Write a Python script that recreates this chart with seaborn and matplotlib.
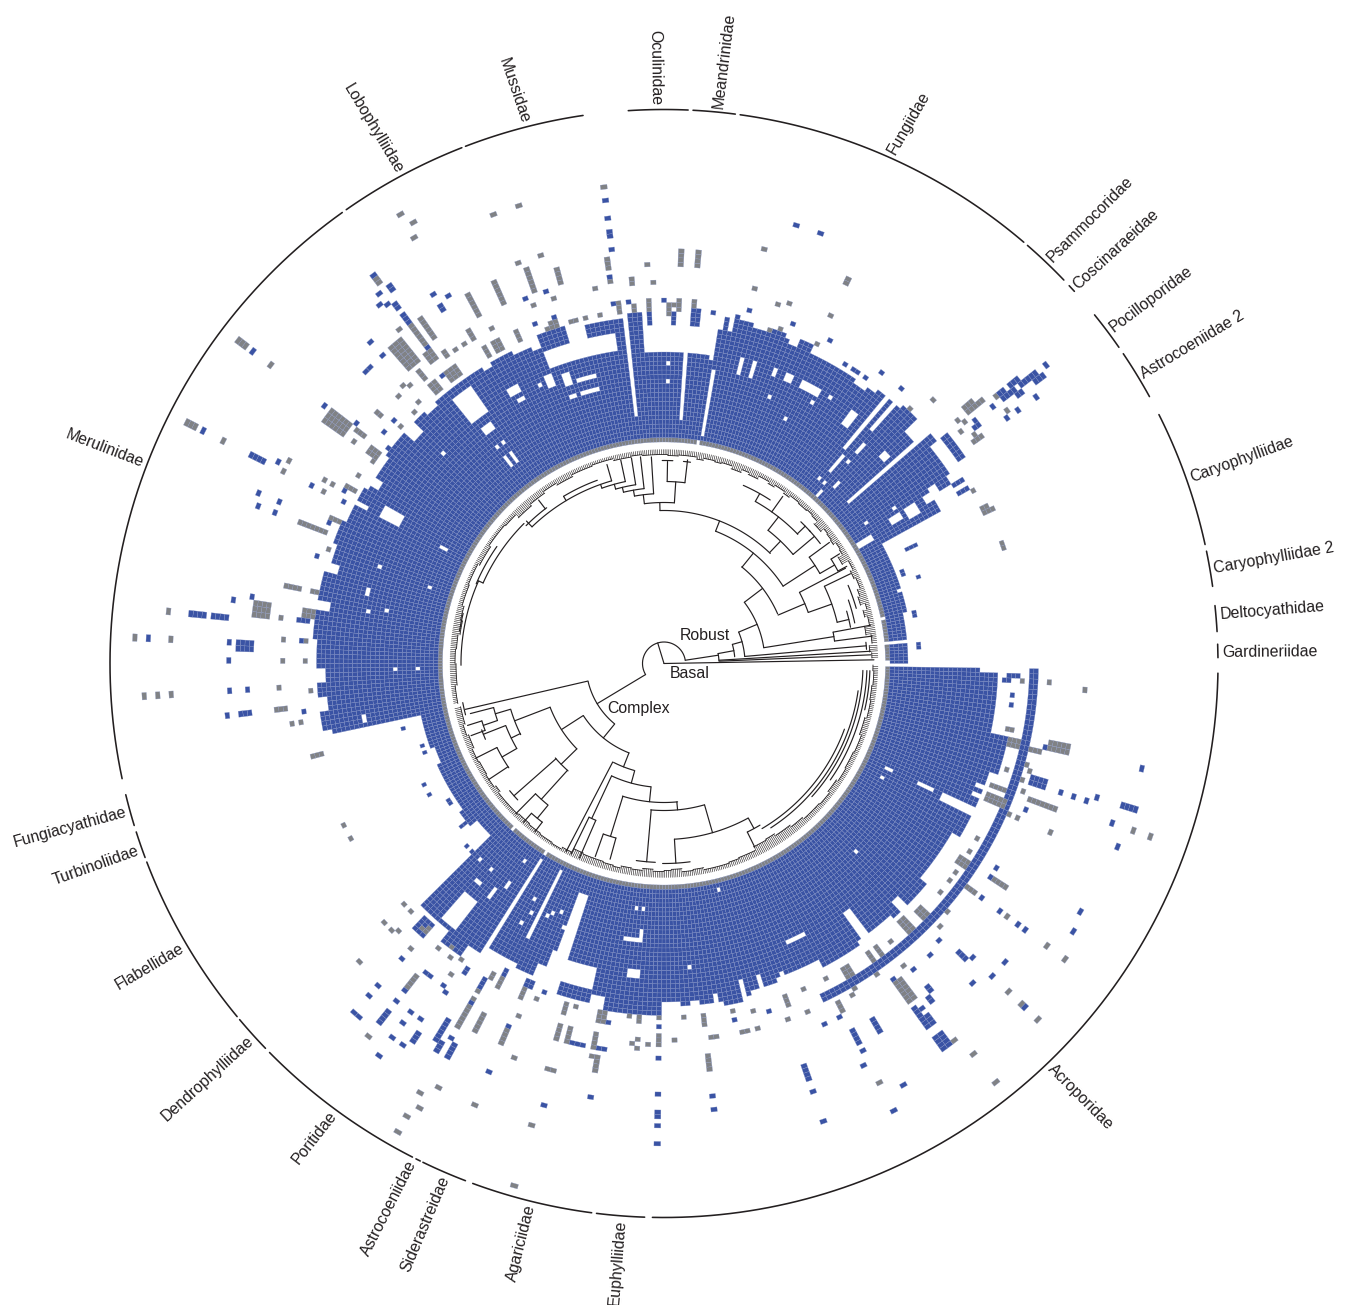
"""Circular coral phylogeny with a trait-presence ring."""

import numpy as np
import pandas as pd
import matplotlib
matplotlib.use("Agg")
import matplotlib.pyplot as plt
from matplotlib.colors import ListedColormap
import seaborn as sns

# family arcs on the outer circle (degrees, counter-clockwise from east)
family_names = ["Gardineriidae", "Deltocyathidae", "Caryophylliidae 2", "Caryophylliidae",
                "Astrocoeniidae 2", "Pocilloporidae", "Coscinaraeidae", "Psammocoridae",
                "Fungiidae", "Meandrinidae", "Oculinidae", "Mussidae", "Lobophylliidae",
                "Merulinidae", "Fungiacyathidae", "Turbinoliidae", "Flabellidae",
                "Dendrophylliidae", "Poritidae", "Astrocoeniidae", "Siderastreidae",
                "Agariciidae", "Euphylliidae", "Acroporidae"]
family_start = [0.6, 3.3, 8.0, 12.4, 28.8, 34.8, 42.2, 43.8, 49.5, 82.6, 87.5, 98.4, 111.4,
                125.5, 193.7, 197.7, 201.0, 220.0, 224.6, 243.4, 244.2, 249.8, 263.0, 268.8]
family_end = [2.0, 6.0, 11.7, 26.7, 34.0, 39.0, 43.0, 49.0, 82.1, 87.0, 93.7, 111.0, 125.0,
              192.0, 197.0, 200.5, 219.6, 224.0, 243.0, 243.9, 249.0, 262.5, 268.0, 359.0]
label_deg = [1.1, 5.0, 9.8, 19.4, 31.1, 36.8, 42.5, 46.3, 66.0, 84.4, 90.8, 104.4, 118.3,
             159.0, 195.4, 199.6, 210.5, 222.3, 233.7, 243.2, 246.9, 256.2, 265.6, 313.8]
label_rot = [0.5, 4.5, 10, 20, 31, 37, 42.5, 45, 60, 83, -89.2, -71, -59,
             -21, 15.4, 19.6, 30.5, 42.3, 52, 63, 67, 76, 85.6, -45]

# outer edge of the filled block: from env_deg[i] to env_deg[i + 1], up to env_r[i]
env_deg = [0.4, 5.2, 6.0, 11.8, 12.4, 17, 18, 22, 25, 29, 31.2, 33, 34, 39, 40.5, 41.5, 44,
           47.5, 52, 54, 56, 60, 63, 65, 67, 69, 70, 73, 75, 78, 81, 82, 88, 93.8, 96.5, 103,
           106.5, 111, 113, 116, 120, 122, 131, 134, 143, 150, 156, 160, 165, 170, 176, 186,
           190, 191.5, 192.3, 200, 204, 216, 220, 224.5, 232, 233, 238.4, 244, 247, 249, 250,
           252, 258, 260, 270, 273, 277, 280, 283, 285, 290, 292, 298, 305, 312, 320, 330,
           335, 342, 348, 352, 358.5, 359.6]
env_r = [247, 0, 247, 0, 249, 245, 249, 251, 249, 316, 310, 340, 345, 355, 336, 336, 353,
         349, 346, 342, 344, 346, 344, 352, 346, 350, 354, 351, 353, 340, 335, 315, 315, 353,
         349, 338, 352, 340, 344, 350, 346, 350, 346, 350, 347, 349, 353, 350, 353, 354, 351,
         349, 351, 340, 250, 245, 250, 253, 247, 345, 340, 347, 336, 340, 325, 310, 247, 315,
         342, 352, 340, 347, 343, 349, 347, 342, 336, 337, 343, 341, 345, 336, 343, 347, 352,
         338, 334, 320]

# white cut-outs in the block: (deg from, deg to, r from, r to)
holes_q1 = [(40.6, 41.5, 247, 400), (49.6, 50.2, 284, 400), (48.2, 48.8, 312, 400),
            (49.4, 50, 255, 272), (47.7, 48.3, 285, 300), (52, 54, 300, 320),
            (42.6, 44, 302, 310), (47.6, 48.2, 272, 277), (49.8, 50.4, 242, 247),
            (48, 48.6, 243, 248), (46.2, 46.8, 248, 253), (47.8, 48.4, 230, 235),
            (49.4, 50, 273, 278), (30.7, 31.7, 230, 248), (30.5, 32.5, 288, 300),
            (31, 33, 268, 280), (35, 35.6, 246, 251), (33.6, 34.2, 277, 282),
            (31.3, 34, 319, 327), (60, 64, 310, 316), (57.3, 58.3, 313, 318),
            (66, 67.4, 311, 316), (68.5, 69.5, 311, 316), (72.5, 73.5, 300, 316),
            (75, 76, 300, 316), (68.3, 69.1, 285, 292), (60, 60.8, 298, 303),
            (63.3, 64.1, 273, 278), (80.6, 81.2, 231, 300), (81, 81.8, 308, 335),
            (85.7, 86.5, 248, 330), (89, 89.8, 298, 303), (89, 89.8, 281, 286)]
holes_q2 = [(95.7, 96.5, 250, 360), (98.5, 111, 318, 338), (103, 107, 296, 302),
            (103, 107, 281, 287), (108, 110, 281, 286), (108, 110, 296, 310),
            (111.5, 112.5, 300, 312), (113.6, 114.4, 303, 308), (118, 120, 310, 316),
            (118, 119, 298, 303), (125, 129, 310, 340), (126, 128, 290, 300),
            (127, 127.8, 273, 278), (125.4, 126.2, 273, 278), (127.2, 127.9, 250, 262),
            (125.6, 126.3, 250, 262), (136.1, 136.9, 303, 308), (136, 138.5, 335, 350),
            (132, 134, 345, 355), (150.5, 153, 300, 322), (152, 152.8, 248, 253),
            (161, 161.8, 299, 304), (161.6, 162.4, 247, 252), (165.5, 167, 305, 310),
            (169.3, 170.1, 299, 304), (169.2, 170, 282, 287), (147, 149, 338, 350),
            (152, 153, 335, 350), (163, 165, 342, 352), (170, 171.5, 340, 356),
            (180.9, 181.7, 269, 274), (180.9, 181.7, 247, 252), (189.5, 191, 304, 310),
            (180.5, 183, 342, 360), (186, 188, 340, 356)]
holes_q3 = [(229, 232, 305, 340), (233.2, 234, 280, 295), (234.6, 235.4, 268, 278),
            (229.2, 230.2, 285, 293), (234.7, 235.3, 241, 246), (226.2, 227, 269, 274),
            (229.6, 230.4, 268, 273), (237.6, 238.4, 233, 345), (243.3, 244, 231, 310),
            (241.1, 241.9, 269, 274), (241.3, 242.1, 281, 286), (241.2, 242, 297, 302),
            (245.6, 246.4, 271, 276), (247.6, 248.4, 268, 273), (245.1, 245.9, 278, 283),
            (248.6, 249.4, 280, 285), (262, 265, 278, 283), (264.5, 265.3, 268, 283),
            (263, 265.3, 311, 316), (263.6, 264.4, 247, 252), (265.2, 266, 247, 252)]
holes_q4 = [(283.6, 284.4, 234, 239), (274.4, 275.2, 306, 311), (315.2, 316, 268, 273),
            (334.8, 335.6, 248, 253), (332.4, 333.2, 247, 252), (334.5, 335.5, 282, 300),
            (334, 335, 308, 345), (338.5, 339.5, 335, 352), (336.5, 337.3, 338, 352),
            (294, 298, 303, 310), (305.3, 307, 310, 340), (314, 315, 333, 348),
            (327.5, 328.5, 335, 345), (278.2, 279, 335, 350), (283.3, 284, 328, 350),
            (286.2, 287, 328, 350), (290.2, 291, 332, 346), (274.5, 276, 340, 350)]

# extra blue bands beyond the block: (deg from, deg to, r from, r to)
blue_bands = [(295.5, 359.6, 366, 374), (34.4, 39, 357, 364), (32, 33.5, 328, 335),
              (226.5, 228.5, 348, 362), (231, 235, 340, 356), (252, 258, 335, 347),
              (84, 85.6, 341, 355), (79.5, 80.3, 340, 350), (77.5, 78.3, 342, 352)]

# isolated cells: (deg, r from, r to)
blue_q1 = [(38.1, 483, 483), (38.9, 428, 436), (38.1, 436, 446), (38.9, 446, 452), (38, 452, 470), (37.2, 466, 474),
           (37.2, 444, 448), (38.1, 430, 434), (38, 417, 417), (35.7, 458, 458),
           (38.3, 393, 393), (37.5, 390, 396), (35.8, 422, 422), (35.6, 437, 437), (35.6, 390, 390),
           (48.9, 364, 364), (53, 364, 364), (54.7, 351, 351), (56.7, 351, 351), (57.5, 351, 351),
           (58.7, 351, 351), (63, 364, 364), (69.6, 364, 364), (76.2, 365, 365), (30.3, 340, 350),
           (31.2, 340, 350), (25.3, 268, 276), (19, 270, 270), (20, 255, 255), (20.8, 255, 255),
           (11.7, 255, 255), (11, 255, 255), (4, 255, 255), (3.2, 255, 255), (73, 457, 457),
           (69.7, 458, 458), (97.5, 466, 466), (97.5, 449, 449), (97.3, 432, 436), (97, 418, 418),
           (82, 352, 352), (85, 358, 358), (84.6, 342, 355), (88.7, 345, 350)]
blue_q2 = [(126.6, 484, 484), (127.4, 468, 468), (126.2, 460, 468), (128.3, 458, 458),
           (127.4, 454, 454), (126.6, 442, 450), (126.5, 428, 436), (132.4, 437, 437),
           (132.4, 418, 418), (134.6, 417, 417), (135.4, 417, 417), (126.8, 390, 398),
           (121.7, 437, 437), (120, 428, 428), (121.7, 416, 420), (110.9, 390, 390),
           (107.6, 390, 390), (110.9, 365, 365), (107.6, 364, 364), (97.7, 390, 390),
           (90.2, 364, 364), (95.2, 364, 364), (97.2, 365, 365), (98, 365, 365), (92, 346, 350),
           (92.7, 340, 348), (88.7, 340, 348), (143.2, 427, 427), (142.3, 390, 390),
           (138.2, 365, 365), (140.7, 364, 364), (142, 351, 351), (153.1, 395, 395),
           (151.4, 364, 364), (153.1, 360, 360), (157.2, 364, 364), (162.9, 364, 364),
           (172.9, 360, 368), (176.5, 365, 365), (173.8, 462, 476), (174, 440, 452),
           (171.3, 437, 437), (170.9, 419, 419), (177, 515, 515), (177, 437, 437), (177.1, 412, 424),
           (178, 412, 424), (179.5, 433, 433), (183.6, 437, 437), (183.8, 417, 417),
           (186.9, 438, 438), (186.8, 416, 426), (187.7, 364, 364), (153, 516, 516),
           (153.1, 448, 460), (152.7, 437, 437), (157, 440, 440), (158.7, 435, 435),
           (157, 419, 419), (158.6, 418, 418), (153.2, 395, 395), (143.1, 514, 514),
           (127.3, 361, 361), (194.3, 270, 270), (198.4, 254, 254), (199.2, 254, 254),
           (200, 255, 255), (206.8, 270, 270), (209, 270, 270), (212.6, 256, 256),
           (213.4, 256, 256), (218.5, 255, 260), (222.6, 270, 270), (224.4, 270, 270)]
blue_q3 = [(228.3, 364, 364), (228.4, 394, 394), (234.3, 364, 364), (236.9, 362, 368),
           (240, 362, 372), (242.5, 345, 355), (232.2, 390, 390), (233, 390, 390), (231.8, 417, 417),
           (228.3, 430, 430), (228.3, 444, 444), (231.7, 431, 431), (231.7, 442, 452),
           (228.3, 466, 466), (229.1, 466, 466), (231.7, 458, 458), (234.2, 430, 430),
           (234.2, 442, 442), (235.9, 430, 430), (236.1, 442, 450), (234.2, 460, 460),
           (236.5, 451, 451), (235.9, 461, 461), (234.3, 483, 483), (239.1, 415, 420),
           (235.8, 390, 390), (236.6, 394, 394), (240.3, 388, 398), (246.5, 395, 395),
           (239.2, 428, 440), (240.7, 431, 431), (239.3, 440, 450), (240.9, 446, 446),
           (241, 434, 448), (246.8, 343, 350), (247.6, 343, 350), (247, 364, 364), (249.9, 351, 351),
           (253.9, 364, 364), (254, 390, 390), (256.2, 390, 390), (257, 390, 390), (258, 390, 390),
           (259.5, 390, 390), (260.3, 390, 390), (261.1, 390, 390), (260.2, 365, 365),
           (261, 365, 365), (259.4, 365, 365), (268.9, 364, 364), (269, 393, 393),
           (260.3, 440, 440), (255, 457, 457), (246.5, 445, 445), (269, 431, 431), (269, 448, 452),
           (269, 461, 461), (269, 482, 482)]
blue_q4 = [(342.2, 384, 400), (343.2, 384, 400), (341.9, 418, 418), (339.3, 417, 417), (337.6, 389, 389),
           (347.5, 389, 389), (327, 391, 391), (328.6, 389, 389), (323.7, 393, 393), (323.9, 417, 417),
           (323.6, 439, 439), (323.6, 428, 428), (323.6, 449, 449), (315, 392, 392), (315.4, 414, 420),
           (316, 427, 427), (318.6, 453, 453), (316.2, 453, 453), (313.7, 444, 444), (312, 393, 393),
           (309.4, 393, 393), (296.7, 393, 393), (293.8, 393, 393), (305.6, 388, 393), (306.4, 388, 393),
           (309.5, 415, 420), (308, 425, 430), (305.7, 428, 434), (306.5, 431, 431), (305.7, 440, 450),
           (306.5, 440, 450), (305.9, 462, 476), (306.7, 462, 476), (300.5, 412, 424), (297, 412, 424),
           (297.2, 436, 436), (281.4, 364, 364), (287.1, 363, 363), (276.2, 434, 434), (276.2, 449, 449),
           (289.4, 428, 438), (289.1, 455, 455), (289.2, 483, 483), (297.3, 504, 504), (299.6, 483, 483),
           (296.2, 449, 449), (316, 500, 500), (355, 351, 351), (353.5, 351, 351), (358, 345, 352),
           (356.8, 340, 346), (347.6, 487, 487), (342.8, 478, 494), (340.3, 474, 474), (337.7, 487, 487),
           (342.6, 452, 452), (342, 443, 443), (342, 430, 430), (328.8, 486, 486), (326.8, 487, 487)]
grey_q1 = [(39.7, 396, 412), (40.5, 396, 405), (39, 424, 424), (38.5, 386, 386), (39.7, 381, 381), (38, 377, 377),
           (36.3, 426, 426), (35.8, 380, 388), (36.6, 385, 385), (35.5, 379, 379), (44.7, 377, 377),
           (46.4, 356, 356), (64.5, 386, 386), (64.6, 424, 424), (64.6, 355, 355), (70.4, 381, 381),
           (72, 377, 377), (76, 385, 385), (29, 356, 356), (25.4, 354, 362), (26.2, 354, 358),
           (19, 358, 358), (19.8, 358, 358), (97.5, 480, 480), (97.7, 398, 410), (98, 386, 386),
           (76, 424, 424), (64.6, 423, 423), (87.7, 399, 411), (85.5, 399, 411), (92, 398, 398),
           (94.5, 385, 385), (76.4, 386, 386), (85, 360, 365), (87.7, 353, 362), (88.7, 358, 358),
           (72.8, 348, 348), (71, 354, 354)]
grey_q2 = [(126.6, 474, 480), (128.3, 425, 425), (126.6, 398, 420), (125, 398, 420), (129.5, 392, 418),
           (130.3, 392, 418), (131.2, 392, 418), (127.9, 380, 390), (126.5, 381, 388), (124.9, 375, 382),
           (118.3, 395, 415), (114.2, 395, 415), (109.2, 395, 415), (110, 381, 381), (106.8, 381, 381),
           (105, 395, 408), (100, 382, 382), (97.7, 385, 385), (94.4, 381, 381), (91.8, 381, 381),
           (97.4, 354, 362), (94.7, 352, 358), (92, 354, 364), (89.4, 350, 358), (87.7, 354, 364),
           (100, 355, 355), (103, 355, 355), (104.2, 355, 355), (105.2, 355, 355), (108, 354, 360),
           (107.2, 354, 360), (109, 356, 356), (114.2, 354, 363), (120, 376, 384), (117.5, 377, 377),
           (121.7, 377, 377), (123.3, 377, 377), (119.7, 353, 362), (118.2, 353, 362), (117.4, 353, 362),
           (126.3, 353, 363), (125.5, 353, 363), (127.1, 353, 363), (130.2, 353, 364), (129.4, 353, 364),
           (130, 372, 382), (132.5, 377, 377), (133.1, 381, 381), (135, 378, 378), (133.3, 359, 359),
           (135, 356, 356), (138.6, 375, 380), (143, 395, 415), (143.8, 395, 415), (144.6, 395, 415),
           (138.1, 356, 356), (142.9, 376, 386), (144, 380, 380), (143.3, 353, 364), (144.1, 353, 364),
           (145.6, 356, 356), (151.4, 424, 424), (151.4, 386, 386), (151.5, 378, 378), (153.1, 382, 382),
           (148.2, 360, 360), (150.6, 352, 362), (156.5, 352, 362), (158.7, 368, 388), (161.3, 356, 356),
           (168, 372, 386), (168.3, 352, 358), (171.4, 352, 364), (172.2, 352, 364), (176, 359, 359),
           (179.4, 359, 359), (173.7, 499, 499), (171.6, 398, 412), (172.4, 398, 412), (173, 398, 412),
           (177, 529, 529), (177, 493, 493), (173.6, 384, 384), (176.5, 381, 381), (179.5, 381, 381),
           (183.7, 522, 522), (183.7, 508, 508), (183.6, 493, 493), (186.9, 380, 392), (183.5, 384, 384),
           (184.2, 355, 355), (189, 369, 369), (189.5, 375, 375), (194.4, 356, 362), (206.8, 357, 357),
           (209.3, 358, 358), (153, 523, 535), (153.1, 492, 492), (152.9, 428, 428), (159, 362, 376),
           (151.5, 376, 376), (143.1, 523, 535), (143.2, 492, 492), (120, 522, 522),
           (119.7, 508, 508), (120, 492, 492), (110.8, 481, 481), (107.6, 480, 480), (110, 424, 424),
           (107, 425, 425)]
grey_q3 = [(222.6, 356, 356), (224.2, 356, 356), (222.5, 381, 381), (224.3, 381, 381), (225, 376, 376),
           (227.4, 360, 360), (228.1, 354, 360), (228.4, 381, 381), (224.2, 424, 424), (231.6, 361, 361),
           (233, 356, 356), (234, 361, 361), (235.9, 358, 358), (235.8, 377, 377), (240.8, 352, 360),
           (242.5, 353, 363), (231.8, 398, 414), (231.6, 477, 477), (240.7, 386, 386), (240.4, 377, 377),
           (240.6, 395, 415), (242.4, 395, 413), (246.5, 400, 414), (247.5, 381, 381), (246.9, 353, 364),
           (249.1, 360, 360), (253.6, 354, 362), (255.8, 356, 356), (259.4, 353, 364), (260.2, 353, 364),
           (253.8, 376, 390), (255.6, 376, 390), (259.9, 375, 388), (259.8, 399, 399), (264, 355, 355),
           (266.1, 354, 360), (268.9, 356, 356), (269, 374, 382), (266.3, 377, 377), (265.3, 381, 381),
           (267.4, 381, 381), (266.4, 386, 386), (260, 400, 414), (253.8, 478, 478), (254, 542, 542),
           (246.7, 478, 478), (240.7, 492, 492), (240.7, 539, 539), (240.6, 521, 521), (240.9, 506, 506),
           (242.2, 480, 480), (248.9, 422, 422), (253.7, 423, 423), (254.5, 423, 423)]
grey_q4 = [(347, 352, 365), (347.8, 352, 365), (349, 350, 354), (356.8, 358, 358), (342, 378, 378), (343.5, 381, 381),
           (344.3, 377, 377), (347, 376, 386), (347.4, 395, 412), (348.2, 395, 412), (339.5, 392, 415),
           (336, 423, 423), (336.1, 385, 385), (336, 376, 376), (356.8, 386, 386), (340, 383, 383),
           (336.8, 348, 366), (337.6, 348, 366), (339.5, 350, 364), (343, 358, 358), (331, 358, 358),
           (328.5, 358, 358), (326.4, 352, 364), (327.2, 352, 364), (324.3, 357, 357), (323, 357, 357),
           (320.3, 357, 357), (315.8, 354, 362), (316.6, 354, 362), (312.7, 350, 364), (313.5, 350, 364),
           (309.3, 358, 358), (307, 354, 364), (305, 352, 362), (300.6, 354, 362), (301.4, 354, 362),
           (297.3, 356, 356), (293.5, 355, 355), (290.2, 354, 362), (327, 396, 410), (323.7, 376, 386),
           (323.7, 424, 424), (323.6, 475, 475), (323.5, 496, 496), (318.6, 377, 377), (316, 379, 379),
           (316, 474, 474), (316, 494, 494), (316.2, 517, 517), (308, 385, 385), (304.3, 376, 376),
           (300.3, 376, 376), (299.6, 381, 381), (297.5, 381, 388), (306, 396, 416), (306.8, 396, 416),
           (307.9, 475, 475), (308, 498, 498), (308, 534, 534), (276.4, 353, 362), (273, 356, 356), (281.4, 355, 355),
           (284.7, 359, 359), (288.9, 377, 377), (292.1, 377, 377), (284.7, 377, 377), (281.8, 376, 376),
           (282.6, 376, 376), (276.9, 377, 377), (277.7, 377, 377), (271.4, 377, 377), (276.2, 397, 397),
           (276.3, 396, 410), (297.2, 473, 473), (340, 498, 498), (340, 517, 517), (356.7, 420, 420)]

# white breaks in the grey inner ring (deg from, deg to)
ring_breaks = [(359.6, 360), (0, 0.4), (5.2, 6.0), (11.8, 12.4), (81.0, 81.6), (227.4, 228), (238, 238.6)]

# tree: arcs (radius, deg from, deg to) and radial stems (deg, r from, r to)
tree_arcs = [(21.5, 9, 211), (55, 3.4, 10.4), (71, 5.5, 15.6), (81, 5, 22.8), (101, 9, 37.3), (124, 23.6, 51.2),
             (142, 33, 68.7), (153, 46, 91.5), (169, 40.2, 52), (153, 19.6, 27.7), (178, 13.4, 25.7), (190, 11, 16),
             (195, 12, 19), (200, 16, 23), (172, 7.5, 10.5), (203, 4, 6), (180, 30, 36.2), (197, 28, 32),
             (186, 44, 60.6), (195, 57, 66), (197, 42, 46), (197, 37.5, 42.5), (161, 86.3, 97), (182, 83.4, 89),
             (203, 87.5, 90.5), (203, 82.5, 84.5), (170, 93.5, 100), (176, 96.5, 103.3), (181, 99, 105.5),
             (186, 102, 109.5), (190, 106, 134), (195, 110, 121), (195, 127, 135), (198, 135, 156), (204, 145, 157),
             (203, 156, 180.5), (207, 166, 171),
             (78, 193.3, 230.5), (205, 191, 194.5), (96, 213, 248.6), (122, 201, 224.4), (160, 196.8, 206.4),
             (176, 194.5, 198.9), (191, 197.5, 200.5), (170, 201.6, 210), (194, 200, 203), (187, 206.7, 213.9),
             (144, 221, 228.2), (200, 219.5, 223), (183, 225.4, 230.5), (200, 228.5, 232.5), (111, 243, 254.4),
             (124, 245, 263.9), (171, 244, 246.5), (139, 252.6, 275.6), (181, 250.4, 254.6), (147, 264.8, 285.9),
             (199, 262, 267.5), (176, 273.4, 298.5), (200, 269.6, 277.5), (188, 296.3, 300.7), (192, 300.7, 340),
             (196, 303, 352), (199, 318, 358), (203, 325, 358), (206, 347, 358)]
tree_stems = [(107, 0, 21.5), (1, 0, 210), (8.7, 21.5, 55), (3.4, 55, 207), (2.4, 55, 207), (10.4, 55, 71), (15.6, 71, 81),
              (22.8, 81, 101), (37.3, 101, 124), (51, 124, 142), (68.7, 142, 153), (46.4, 153, 169), (23, 124, 153),
              (27.7, 153, 205), (19.5, 153, 178), (25.7, 178, 207), (13.4, 178, 190), (9, 101, 172), (10.5, 172, 210),
              (7.5, 172, 210), (5, 81, 203), (33, 142, 180), (36.2, 180, 205), (30, 180, 197), (28, 197, 207),
              (32, 197, 207), (52, 169, 186), (60.6, 186, 195), (44.2, 186, 197), (54.6, 186, 205), (40.2, 169, 197),
              (91.5, 153, 161), (86.3, 161, 182), (89, 182, 202), (83.4, 182, 205), (97, 161, 170), (93.5, 170, 207),
              (100, 170, 176), (96.5, 176, 208), (103.3, 176, 181), (99, 181, 208), (105.5, 181, 186), (102, 186, 208),
              (109.5, 186, 190), (106, 190, 207), (121, 190, 195), (134, 190, 198), (127.5, 195, 206), (156, 198, 203),
              (211, 21.5, 78), (193, 78, 204), (230.8, 78, 96), (212.8, 96, 122), (201, 122, 160), (196.6, 160, 176),
              (194.5, 176, 200), (198.9, 176, 191), (197.5, 191, 206), (200.5, 191, 206), (206, 160, 170), (201.4, 170, 194),
              (210, 170, 187), (206.7, 187, 211), (213.5, 187, 210), (224.4, 122, 144), (221.4, 144, 200), (227.9, 144, 183),
              (225.4, 183, 211), (230.7, 183, 200), (228.5, 200, 212), (232.5, 200, 212), (248.6, 96, 111), (242.5, 111, 212),
              (254.7, 111, 124), (245, 124, 171), (244, 171, 212), (246.5, 171, 212), (264, 124, 139), (252.8, 139, 181),
              (250.4, 181, 205), (254.6, 181, 203), (275.3, 139, 147), (265, 147, 199), (286, 147, 176), (273.4, 176, 200),
              (298.6, 176, 188), (296.3, 188, 205)]

# short tip combs next to the ring: (deg from, deg to, r where the comb starts)
combs_q1 = [(1.5, 3, 208), (3.2, 5, 206), (5.5, 8, 209), (8, 10.5, 204), (10.5, 13, 209), (13, 15, 206), (15, 16.5, 210),
            (16.5, 19, 205), (19, 21, 207), (21, 24, 210), (24, 26.5, 208), (26.5, 29, 211), (29, 31.5, 204), (31.5, 33, 209),
            (33, 35, 210), (35, 36.5, 207), (36.5, 38.5, 208), (38.5, 40, 209), (40, 43, 205), (43, 45, 209), (45, 47, 210),
            (47, 50, 209), (50, 53, 210), (53, 55, 208), (55, 58, 210), (58, 60, 208), (60, 63, 210), (63, 66, 207), (66, 68, 209),
            (68, 71, 206), (71, 74, 209), (74, 76, 208), (76, 79, 209), (79, 81, 207), (81, 86, 209), (86, 89, 208), (89, 92, 209)]
combs_q2 = [(92, 96, 209), (96, 99, 210), (99, 104, 209), (104, 110, 211), (110, 116, 210), (116, 121, 208), (121, 125, 210),
            (125, 130, 208), (130, 135, 206), (135, 139, 210), (139, 146, 211), (146, 152, 209), (152, 158, 211), (158, 164, 210),
            (164, 168, 208), (168, 172, 206), (172, 176, 208), (176, 180, 209), (180, 186, 208), (186, 191, 210)]
combs_q3 = [(192, 197, 208), (197, 200, 210), (200, 204, 208), (204, 208, 210), (208, 212, 209), (212, 216, 210), (216, 218, 208),
            (218, 222, 210), (222, 226, 210), (226, 230, 209), (230, 234, 210), (234, 238, 211), (238, 241, 212), (241, 244, 210),
            (244, 247, 206), (247, 250, 207), (250, 253, 207), (253, 256, 208), (256, 258, 209), (258, 261, 207), (261, 264, 208),
            (264, 267, 206), (267, 270, 208)]
combs_q4 = [(270, 272, 207), (272, 275, 206), (275, 278, 209), (278, 281, 208), (281, 284, 210), (284, 288, 210), (288, 291, 209),
            (291, 294, 208), (294, 296, 208), (296, 300, 204), (300, 303, 203), (303, 308, 205), (308, 312, 207), (312, 318, 209),
            (318, 322, 210), (322, 326, 208), (326, 330, 210), (330, 335, 209), (335, 340, 210), (340, 345, 208), (345, 350, 210),
            (350, 354, 209), (354, 358, 210), (358, 359.6, 209)]

clade_labels = ["Robust", "Basal", "Complex"]
clade_xy = [(705, 636), (690, 674), (639, 708)]

BLUE = "#3a53a4"
GREY = "#808285"
INK = "#231f20"
CELL_DEG = 0.8
TIP_STEP = 0.5
RING_R = 221.5
CELL_R = 4.5
TIP_R = 214
W, H, CX, CY, R_MAX = 1352, 1305, 664, 663.5, 650


def col_range(a, b):
    centers = (np.arange(int(360 / CELL_DEG)) + 0.5) * CELL_DEG
    idx = np.where((centers >= a) & (centers < b))[0]
    return idx if len(idx) else np.array([int(a / CELL_DEG) % len(centers)])


def row_of(r):
    return int((r - RING_R) / CELL_R)


def build_grid():
    grid = np.zeros((75, int(360 / CELL_DEG)), dtype=int)
    grid[0, :] = 2
    for a, b in ring_breaks:
        grid[0, col_range(a, b)] = 0
    for a, b, r in zip(env_deg[:-1], env_deg[1:], env_r):
        if r:
            grid[1:row_of(r), col_range(a, b)] = 1
    for a, b, r0, r1 in holes_q1 + holes_q2 + holes_q3 + holes_q4:
        grid[max(row_of(r0), 1):max(row_of(r1), row_of(r0) + 1), col_range(a, b)] = 0
    for a, b, r0, r1 in blue_bands:
        grid[row_of(r0):row_of(r1) + 1, col_range(a, b)] = 1
    for value, cells in ((1, blue_q1 + blue_q2 + blue_q3 + blue_q4), (2, grey_q1 + grey_q2 + grey_q3 + grey_q4)):
        for deg, r0, r1 in cells:
            grid[row_of(r0):row_of(r1) + 1, int(deg / CELL_DEG) % grid.shape[1]] = value
    return grid


def arc_frame(arcs):
    rows = []
    for uid, (r, a, b) in enumerate(arcs):
        for t in np.radians(np.linspace(a, b, max(int(abs(b - a) * 2), 2))):
            rows.append((uid, t, r))
    return pd.DataFrame(rows, columns=["unit", "theta", "r"])


def stem_frame(stems):
    rows = []
    for uid, (deg, r0, r1) in enumerate(stems):
        rows += [(uid, np.radians(deg), r0), (uid, np.radians(deg), r1)]
    return pd.DataFrame(rows, columns=["unit", "theta", "r"])


def draw_lines(ax, df, lw):
    sns.lineplot(data=df, x="theta", y="r", units="unit", estimator=None, sort=False,
                 color=INK, linewidth=lw, legend=False, ax=ax)


sns.set_theme(style="white")
plt.rcParams["font.family"] = ["Liberation Sans", "DejaVu Sans"]

fig = plt.figure(figsize=(W / 100, H / 100), dpi=100)
ax = fig.add_axes([(CX - R_MAX) / W, (H - CY - R_MAX) / H, 2 * R_MAX / W, 2 * R_MAX / H], projection="polar")

grid = build_grid()
theta_edges = np.radians(np.arange(grid.shape[1] + 1) * CELL_DEG)
r_edges = RING_R + np.arange(grid.shape[0] + 1) * CELL_R
cmap = ListedColormap(sns.color_palette([BLUE, GREY]))
ax.pcolor(theta_edges, r_edges, np.ma.masked_equal(grid, 0), cmap=cmap, vmin=1, vmax=2,
          edgecolors="#8796c8", linewidth=0.2)

# tree
draw_lines(ax, arc_frame(tree_arcs), 0.85)
draw_lines(ax, stem_frame(tree_stems), 0.85)
combs = combs_q1 + combs_q2 + combs_q3 + combs_q4
draw_lines(ax, arc_frame([(r, a, b) for a, b, r in combs]), 0.6)
tips = [(deg, r, TIP_R) for a, b, r in combs for deg in np.arange(a + 0.2, b, TIP_STEP)]
draw_lines(ax, stem_frame(tips), 0.42)

# family arcs and labels
draw_lines(ax, arc_frame([(554, a, b) for a, b in zip(family_start, family_end)]), 1.15)
for name, deg, rot in zip(family_names, label_deg, label_rot):
    right_side = deg < 90 or deg > 270
    ax.text(np.radians(deg), 558, name, fontsize=11.4, color=INK, va="center",
            ha="left" if right_side else "right", rotation=rot,
            rotation_mode="anchor", clip_on=False)

for name, (x, y) in zip(clade_labels, clade_xy):
    fig.text(x / W, 1 - y / H, name, fontsize=11.4, color=INK, ha="center", va="center")

ax.set_ylim(0, R_MAX)
ax.set_axis_off()
fig.savefig("out.png", dpi=100, facecolor="white")
